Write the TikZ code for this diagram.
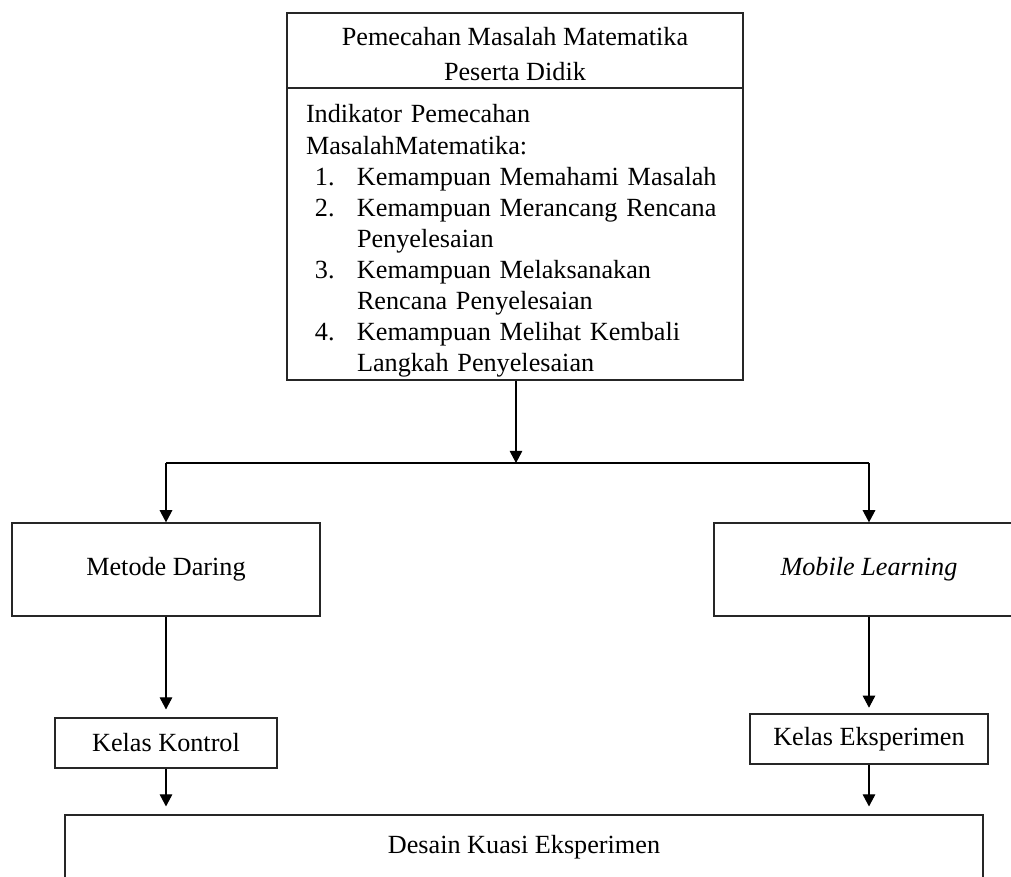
\documentclass[tikz,border=0pt]{standalone}
\usepackage{fontspec}
\setmainfont{Liberation Serif}
\usetikzlibrary{arrows.meta}
\newcommand{\butir}[2]{\mbox{\hspace*{0.14cm}\makebox[0.657cm][l]{#1}#2}}
\newcommand{\lanjut}[1]{\mbox{\hspace*{0.797cm}#1}}
\tikzset{
  kotak/.style={draw=black!85, line width=0.6pt, inner sep=0pt, align=center,
    font=\fontsize{11.65}{13.8}\selectfont},
  panah/.style={line width=0.5pt, -{Triangle[length=5.4pt,width=5.6pt]}}
}
\begin{document}
\begin{tikzpicture}[x=0.015625cm, y=-0.015625cm]
  \clip (0,0) rectangle (1011,877);
  % kerangka atas
  \node[kotak, minimum width=7.125cm, minimum height=1.172cm] (judul) at (515,50.5)
    {\rule{0pt}{11.1pt}Pemecahan Masalah Matematika\\[2pt]Peserta Didik};
  \node[kotak, minimum width=7.125cm, minimum height=4.5625cm, text width=6.531cm,
        align=left, inner xsep=0.297cm] (indikator) at (515,234)
    {\rule{0pt}{14.2pt}\mbox{Indikator Pemecahan}\\
     \mbox{MasalahMatematika:}\\
     \butir{1.}{Kemampuan Memahami Masalah}\\
     \butir{2.}{Kemampuan Merancang Rencana}\\
     \lanjut{Penyelesaian}\\
     \butir{3.}{Kemampuan Melaksanakan}\\
     \lanjut{Rencana Penyelesaian}\\
     \butir{4.}{Kemampuan Melihat Kembali}\\
     \lanjut{Langkah Penyelesaian}};
  \coordinate (cabang) at (516,463);
  % dua metode
  \node[kotak, minimum width=4.8125cm, minimum height=1.453cm] (metode) at (166,569.5) {Metode Daring};
  \node[kotak, minimum width=4.844cm, minimum height=1.453cm] (mobile) at (869,569.5) {\textit{Mobile Learning}};
  \node[kotak, minimum width=3.469cm, minimum height=0.781cm] (kontrol) at (166,743) {Kelas Kontrol};
  \node[kotak, minimum width=3.719cm, minimum height=0.781cm] (eksperimen) at (869,739) {Kelas Eksperimen};
  \node[kotak, minimum width=14.344cm, minimum height=1.0cm] (desain) at (524,847) {Desain Kuasi Eksperimen};
  % panah
  \draw[panah] (indikator.south -| cabang) -- (cabang);
  \draw[line width=0.6pt] (cabang -| metode) -- (cabang -| mobile);
  \draw[panah] (cabang -| metode) -- (metode.north);
  \draw[panah] (cabang -| mobile) -- (mobile.north);
  \draw[panah, shorten >=3.5pt] (metode.south) -- (kontrol.north);
  \draw[panah, shorten >=2.5pt] (mobile.south) -- (eksperimen.north);
  \draw[panah, shorten >=3.5pt] (kontrol.south) -- (kontrol.south |- desain.north);
  \draw[panah, shorten >=3.5pt] (eksperimen.south) -- (eksperimen.south |- desain.north);
\end{tikzpicture}
\end{document}
